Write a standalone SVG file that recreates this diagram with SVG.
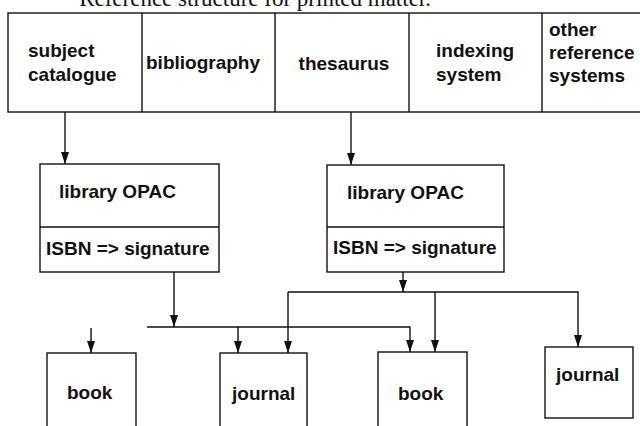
<svg xmlns="http://www.w3.org/2000/svg" width="640" height="426" viewBox="0 0 640 426">
<style>
.box{fill:none;stroke:#111;stroke-width:1.4}
.ln{fill:none;stroke:#111;stroke-width:1.4}
.t{font-family:"Liberation Sans",Arial,sans-serif;font-size:19px;font-weight:bold;fill:#111}
.title{font-family:"Liberation Serif","Times New Roman",serif;font-size:23px;fill:#111}
</style>
<defs>
<marker id="ah" viewBox="0 0 12 8" refX="12" refY="4" markerWidth="12" markerHeight="8" markerUnits="userSpaceOnUse" orient="auto">
<path d="M0,0 L12,4 L0,8 Z" fill="#111"/>
</marker>
</defs>
<rect width="640" height="426" fill="#fff"/>
<text class="title" x="431" y="6" text-anchor="end">Reference structure for printed matter.</text>

<g id="top-row">
<rect class="box" x="8" y="13" width="680" height="99"/>
<line class="ln" x1="142" y1="13" x2="142" y2="112"/>
<line class="ln" x1="275" y1="13" x2="275" y2="112"/>
<line class="ln" x1="409" y1="13" x2="409" y2="112"/>
<line class="ln" x1="542" y1="13" x2="542" y2="112"/>
</g>
<g id="subject-catalogue"><text class="t" x="28" y="57">subject</text><text class="t" x="28" y="81">catalogue</text></g>
<g id="bibliography"><text class="t" x="146" y="69">bibliography</text></g>
<g id="thesaurus"><text class="t" x="344" y="70" text-anchor="middle">thesaurus</text></g>
<g id="indexing-system"><text class="t" x="436" y="57">indexing</text><text class="t" x="436" y="81">system</text></g>
<g id="other-reference-systems"><text class="t" x="549" y="36">other</text><text class="t" x="549" y="59">reference</text><text class="t" x="549" y="82">systems</text></g>

<g id="opac1">
<rect class="box" x="40" y="164" width="179" height="108"/>
<line class="ln" x1="40" y1="227" x2="219" y2="227"/>
<text class="t" x="59" y="198">library OPAC</text>
<text class="t" x="46" y="255">ISBN =&gt; signature</text>
</g>
<g id="opac2">
<rect class="box" x="327" y="165" width="177" height="107"/>
<line class="ln" x1="327" y1="227" x2="504" y2="227"/>
<text class="t" x="347" y="199">library OPAC</text>
<text class="t" x="333" y="254">ISBN =&gt; signature</text>
</g>

<g id="book1"><rect class="box" x="47" y="353" width="89" height="90"/><text class="t" x="67" y="399">book</text></g>
<g id="journal1"><rect class="box" x="220" y="353" width="87" height="90"/><text class="t" x="232" y="400">journal</text></g>
<g id="book2"><rect class="box" x="378" y="352" width="89" height="91"/><text class="t" x="398" y="400">book</text></g>
<g id="journal2"><rect class="box" x="545" y="347" width="88" height="71"/><text class="t" x="556" y="381">journal</text></g>

<g id="connectors">
<line class="ln" x1="65" y1="112" x2="65" y2="164" marker-end="url(#ah)"/>
<line class="ln" x1="351" y1="112" x2="351" y2="165" marker-end="url(#ah)"/>
<line class="ln" x1="174" y1="272" x2="174" y2="327" marker-end="url(#ah)"/>
<polyline class="ln" points="147,327 410,327 410,352" marker-end="url(#ah)"/>
<line class="ln" x1="238" y1="327" x2="238" y2="353" marker-end="url(#ah)"/>
<line class="ln" x1="91" y1="328" x2="91" y2="353" marker-end="url(#ah)"/>
<line class="ln" x1="403" y1="272" x2="403" y2="292" marker-end="url(#ah)"/>
<polyline class="ln" points="288,292 578,292 578,347" marker-end="url(#ah)"/>
<line class="ln" x1="288" y1="292" x2="288" y2="353" marker-end="url(#ah)"/>
<line class="ln" x1="435" y1="292" x2="435" y2="352" marker-end="url(#ah)"/>
</g>
</svg>
